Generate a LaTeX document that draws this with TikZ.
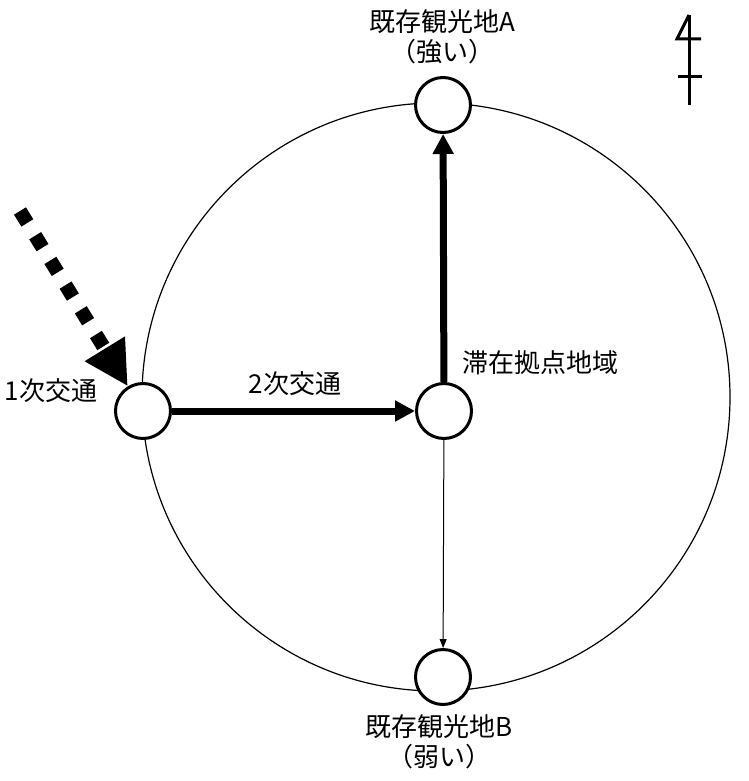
\documentclass[tikz,border=0pt]{standalone}
\usepackage{fontspec}
\setmainfont{Noto Sans CJK JP}
\usetikzlibrary{arrows.meta}
\tikzset{
  spot/.style={circle,draw=black,fill=white,line width=3pt,minimum size=55pt,inner sep=0pt},
  lbl/.style={font=\fontsize{26}{30}\selectfont,align=center,inner sep=0pt},
  thickarrow/.style={line width=7pt,-{Triangle[length=20pt,width=20pt]}},
  thinarrow/.style={line width=1pt,-{Triangle[length=9pt,width=7pt]}},
  feedarrow/.style={line width=14pt,dash pattern=on 14pt off 15pt,-{Triangle[length=44pt,width=44pt]}},
  northline/.style={line width=3pt}
}
\begin{document}
\begin{tikzpicture}[x=1pt,y=-1pt]
\useasboundingbox (0,0) rectangle (748,781);
\draw[line width=1.2pt] (436,397) circle [radius=294pt];
\node[spot] (left) at (143,411) {};
\node[spot] (hub) at (444,411) {};
\node[spot] (sa) at (443,105) {};
\node[spot] (sb) at (443,677) {};
\coordinate (feed) at (20,211);
\draw[feedarrow] (feed) -- (left);
\draw[thickarrow] (left) -- (hub);
\draw[thickarrow] (hub) -- (sa);
\draw[thinarrow] (hub) -- (sb);
\node[lbl] (l1) at (51,391) {1次交通};
\node[lbl] (l2) at (295,384) {2次交通};
\node[lbl] (lh) at (540,363) {滞在拠点地域};
\node[lbl] (la) at (442,37) {既存観光地A\\（強い）};
\node[lbl] (lb) at (439,742) {既存観光地B\\（弱い）};
\draw[northline] (689,15) -- (689,105);
\draw[northline] (689,15) -- (677,39) -- (701,39);
\draw[northline] (678,77) -- (702,77);
\end{tikzpicture}
\end{document}
